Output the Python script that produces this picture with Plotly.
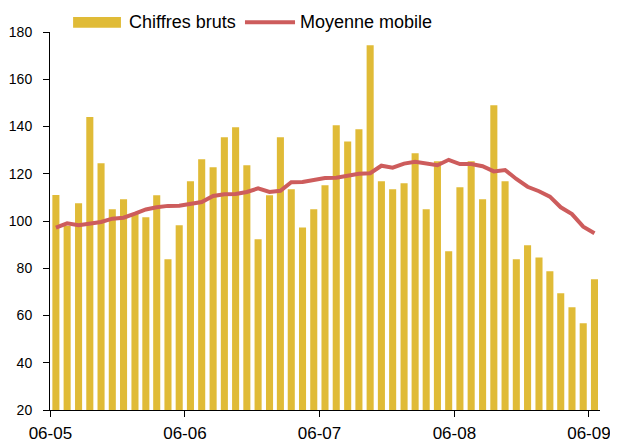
import pandas as pd
import plotly.graph_objects as go

# monthly data, June 2005 -> June 2009
months = pd.date_range("2005-06-01", periods=49, freq="MS")

chiffres_bruts = [111, 98, 107.5, 144, 124.4, 105, 109.2, 103, 101.6, 110.9,
                  83.8, 98.2, 116.8, 126.1, 122.7, 135.4, 139.7, 123.6, 92.3, 110.9,
                  135.4, 113.4, 97.3, 105, 115.1, 140.5, 133.7, 138.8, 174.4, 116.8,
                  113.4, 116, 128.7, 105, 125.3, 87.2, 114.3, 125.3, 109.2, 149,
                  116.8, 83.8, 89.7, 84.6, 78.7, 69.4, 63.5, 56.7, 75.3]

moyenne_mobile = [97.2, 99, 98.2, 98.7, 99.6, 101, 101.4, 103.1, 104.9, 105.8,
                  106.4, 106.5, 107.3, 108, 110.6, 111.3, 111.4, 112.3, 113.8, 112.3,
                  112.8, 116.4, 116.5, 117.4, 118.2, 118.3, 119, 120, 120.2, 123.4,
                  122.6, 124.3, 125.1, 124.5, 123.6, 125.9, 124.1, 124.1, 123.2, 121,
                  121.6, 117.8, 114.5, 112.6, 110.3, 105.8, 102.9, 97.6, 94.8]

tick_dates = ["2005-06-01", "2006-06-01", "2007-06-01", "2008-06-01", "2009-06-01"]
tick_labels = ["06-05", "06-06", "06-07", "06-08", "06-09"]

BAR_COLOR = "#E0BB37"
LINE_COLOR = "#CD5C5C"
FONT = "Liberation Sans, Arial, sans-serif"

fig = go.Figure()
fig.add_trace(go.Bar(
    x=months, y=chiffres_bruts, name="Chiffres bruts",
    xperiod="M1", xperiodalignment="middle",
    marker=dict(color=BAR_COLOR, line=dict(width=0)),
))
fig.add_trace(go.Scatter(
    x=months, y=moyenne_mobile, name="Moyenne mobile", mode="lines",
    xperiod="M1", xperiodalignment="middle",
    line=dict(color=LINE_COLOR, width=4),
))

# legend drawn by hand (wide bar swatch as in the original)
fig.add_shape(type="rect", xref="paper", yref="paper",
              x0=0.042, x1=0.129, y0=1.011, y1=1.040,
              fillcolor=BAR_COLOR, line=dict(width=0))
fig.add_annotation(xref="paper", yref="paper", x=0.14, y=1.026,
                   text="Chiffres bruts", showarrow=False,
                   xanchor="left", yanchor="middle",
                   font=dict(family=FONT, size=18, color="black"))
fig.add_shape(type="line", xref="paper", yref="paper",
              x0=0.3545, x1=0.4455, y0=1.026, y1=1.026,
              line=dict(color=LINE_COLOR, width=4))
fig.add_annotation(xref="paper", yref="paper", x=0.451, y=1.026,
                   text="Moyenne mobile", showarrow=False,
                   xanchor="left", yanchor="middle",
                   font=dict(family=FONT, size=18, color="black"))

# the page adds an 8px body margin, so the figure is 8px smaller
fig.update_layout(
    width=610, height=435,
    margin=dict(l=42, r=18, t=24, b=33),
    paper_bgcolor="white", plot_bgcolor="white",
    showlegend=False, bargap=0.35,
    font=dict(family=FONT, size=14, color="black"),
    xaxis=dict(
        type="date", range=["2005-05-31", "2009-07-01"],
        tickvals=tick_dates, ticktext=tick_labels,
        tickfont=dict(size=17),
        showgrid=False, zeroline=False, automargin=False,
        showline=True, linecolor="black", linewidth=1,
        ticks="outside", ticklen=6, tickcolor="black",
        ticklabelstandoff=2,
    ),
    yaxis=dict(
        range=[20, 180], tickvals=[20, 40, 60, 80, 100, 120, 140, 160, 180],
        showgrid=False, zeroline=False, automargin=False,
        showline=True, linecolor="black", linewidth=1,
        ticks="outside", ticklen=6, tickcolor="black",
        ticklabelstandoff=8,
    ),
)

fig.write_html("out.html")
